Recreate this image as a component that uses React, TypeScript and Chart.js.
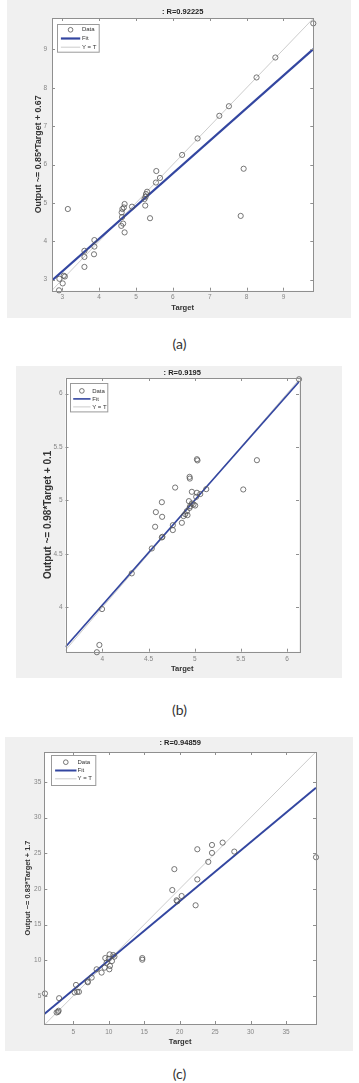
import React, { useEffect, useRef } from 'react';
import { Chart, registerables } from 'chart.js';

Chart.register(...registerables);

// ---------- Panel (a) ----------
const titleA = ': R=0.92225';
const yLabelA = 'Output ~= 0.85*Target + 0.67';
const targetA = [9.81, 8.78, 8.27, 7.52, 7.26, 6.67, 6.25, 7.92, 7.84, 5.55, 5.65, 5.54, 5.3, 5.27, 5.26, 5.23, 5.25, 5.38, 4.89, 4.69, 4.67, 4.63, 4.61, 4.62, 4.65, 4.6, 4.69, 3.15, 3.87, 3.87, 3.86, 3.6, 3.6, 3.6, 3.04, 3.07, 2.92, 3.01, 2.91];
const outputA = [9.68, 8.79, 8.27, 7.52, 7.27, 6.68, 6.25, 5.89, 4.66, 5.83, 5.65, 5.53, 5.29, 5.23, 5.16, 5.1, 4.93, 4.6, 4.9, 4.97, 4.88, 4.84, 4.75, 4.63, 4.46, 4.4, 4.23, 4.84, 4.03, 3.86, 3.66, 3.75, 3.59, 3.33, 3.1, 3.08, 3.02, 2.9, 2.72];
const fitXA = [2.72, 9.81];
const fitYA = [2.98, 9.01];
const idXA = [2.71, 9.81];
const idYA = [2.71, 9.81];
const ticksXA = [3, 4, 5, 6, 7, 8, 9];
const ticksYA = [3, 4, 5, 6, 7, 8, 9];

// ---------- Panel (b) ----------
const titleB = ': R=0.9195';
const yLabelB = 'Output ~= 0.98*Target + 0.1';
const targetB = [6.13, 5.674, 5.526, 5.024, 5.03, 4.944, 4.947, 4.788, 4.969, 5.024, 5.06, 5.125, 5.016, 4.937, 4.644, 4.969, 4.987, 5.005, 4.951, 4.944, 4.579, 4.915, 4.897, 4.922, 4.879, 4.647, 4.861, 4.571, 4.763, 4.763, 4.644, 4.65, 4.535, 4.318, 3.996, 3.967, 3.94];
const outputB = [6.134, 5.377, 5.103, 5.386, 5.375, 5.221, 5.205, 5.121, 5.081, 5.072, 5.06, 5.106, 5.034, 4.994, 4.984, 4.972, 4.963, 4.953, 4.947, 4.93, 4.891, 4.9, 4.872, 4.863, 4.854, 4.847, 4.791, 4.754, 4.769, 4.723, 4.654, 4.66, 4.551, 4.318, 3.984, 3.648, 3.58];
const fitXB = [3.6, 6.13];
const fitYB = [3.63, 6.11];
const idXB = [3.58, 6.14];
const idYB = [3.58, 6.14];
const ticksXB = [4, 4.5, 5, 5.5, 6];
const ticksYB = [4, 4.5, 5, 5.5, 6];

// ---------- Panel (c) ----------
const titleC = ': R=0.94859';
const yLabelC = 'Output ~= 0.83*Target + 1.7';
const targetC = [39.23, 27.71, 26.06, 24.56, 24.56, 24.04, 22.49, 22.49, 22.25, 19.25, 18.96, 20.28, 19.57, 19.67, 14.73, 14.73, 10.12, 10.64, 10.8, 9.51, 10.0, 9.7, 10.45, 10.17, 10.08, 9.42, 8.99, 8.29, 7.59, 7.02, 7.05, 5.38, 5.56, 5.19, 5.8, 3.0, 1.0, 2.93, 2.65, 2.85];
const outputC = [24.44, 25.23, 26.49, 26.16, 25.05, 23.79, 25.56, 21.33, 17.7, 22.77, 19.84, 19.0, 18.4, 18.26, 10.3, 10.07, 10.81, 10.72, 10.5, 10.3, 10.2, 9.65, 9.88, 9.19, 8.72, 8.95, 8.26, 8.72, 7.56, 7.0, 6.9, 6.53, 5.56, 5.47, 5.56, 4.67, 5.33, 2.91, 2.67, 2.75];
const fitXC = [0.91, 39.23];
const fitYC = [2.46, 34.2];
const idXC = [0.9, 39.23];
const idYC = [0.9, 39.23];
const ticksXC = [5, 10, 15, 20, 25, 30, 35];
const ticksYC = [5, 10, 15, 20, 25, 30, 35];

const FONT = "'Liberation Sans', Arial, Helvetica, sans-serif";

const matlabPlugin = {
  id: 'matlabBox',
  beforeDraw(chart: any) {
    const { ctx, chartArea: a } = chart;
    ctx.save();
    ctx.fillStyle = '#ffffff';
    ctx.fillRect(a.left, a.top, a.right - a.left, a.bottom - a.top);
    ctx.restore();
  },
  afterDatasetsDraw(chart: any, _args: any, opts: any) {
    const { ctx, chartArea: a, scales } = chart;
    ctx.save();
    ctx.strokeStyle = '#8f8f8f';
    ctx.lineWidth = 1;
    ctx.strokeRect(Math.round(a.left) + 0.5, Math.round(a.top) + 0.5, Math.round(a.right - a.left), Math.round(a.bottom - a.top));
    const tl = 3;
    ctx.beginPath();
    scales.x.ticks.forEach((t: any) => {
      const px = Math.round(scales.x.getPixelForValue(t.value)) + 0.5;
      ctx.moveTo(px, a.bottom); ctx.lineTo(px, a.bottom - tl);
      ctx.moveTo(px, a.top); ctx.lineTo(px, a.top + tl);
    });
    scales.y.ticks.forEach((t: any) => {
      const py = Math.round(scales.y.getPixelForValue(t.value)) + 0.5;
      ctx.moveTo(a.left, py); ctx.lineTo(a.left + tl, py);
      ctx.moveTo(a.right, py); ctx.lineTo(a.right - tl, py);
    });
    ctx.stroke();

    // legend box
    const lg = opts.legend;
    const x0 = Math.round(a.left + lg.dx) + 0.5;
    const y0 = Math.round(a.top + lg.dy) + 0.5;
    ctx.fillStyle = '#ffffff';
    ctx.fillRect(x0, y0, lg.w, lg.h);
    ctx.strokeStyle = '#9a9a9a';
    ctx.lineWidth = 1;
    ctx.strokeRect(x0, y0, lg.w, lg.h);
    ctx.font = `6px ${FONT}`;
    ctx.textBaseline = 'middle';
    ctx.textAlign = 'left';
    chart.data.datasets.forEach((ds: any, i: number) => {
      const cy = y0 + lg.row0 + i * lg.rowH;
      if (ds.showLine === false) {
        ctx.beginPath();
        ctx.strokeStyle = ds.pointBorderColor;
        ctx.lineWidth = ds.pointBorderWidth;
        ctx.arc(x0 + (lg.l0 + lg.l1) / 2, cy, ds.pointRadius * 0.9, 0, Math.PI * 2);
        ctx.stroke();
      } else {
        ctx.beginPath();
        ctx.strokeStyle = ds.borderColor;
        ctx.lineWidth = ds.borderWidth;
        ctx.moveTo(x0 + lg.l0, cy);
        ctx.lineTo(x0 + lg.l1, cy);
        ctx.stroke();
      }
      ctx.fillStyle = '#333333';
      ctx.fillText(ds.label, x0 + lg.tx, cy);
    });
    ctx.restore();
  },
};

type PanelDef = {
  left: number; top: number; w: number; h: number;
  plot: { l: number; t: number; r: number; b: number };
  titleY: number; yTitleX: number; xTitleY: number; ySize: number;
  xTickPad: number; yTickPad: number; fitWidth: number;
  legend: any;
  title: string; yLabel: string;
  target: number[]; output: number[];
  fitX: number[]; fitY: number[]; idX: number[]; idY: number[];
  ticksX: number[]; ticksY: number[];
  xMin: number; xMax: number; yMin: number; yMax: number;
};

function Panel({ p }: { p: PanelDef }) {
  const ref = useRef<HTMLCanvasElement>(null);
  useEffect(() => {
    const titleSize = 7.5;
    const lhT = titleSize * 1.2;
    const xSize = 7.6;
    const lhX = xSize * 1.2;
    const lhY = p.ySize * 1.2;
    const chart = new Chart(ref.current as HTMLCanvasElement, {
      type: 'scatter',
      data: {
        datasets: [
          {
            label: 'Data',
            data: p.target.map((x, i) => ({ x, y: p.output[i] })),
            showLine: false,
            pointRadius: 2.6,
            pointHoverRadius: 2.6,
            pointBorderWidth: 0.8,
            pointBorderColor: '#555555',
            pointBackgroundColor: 'rgba(0,0,0,0)',
            borderColor: '#555555',
            clip: false,
          } as any,
          {
            label: 'Fit',
            data: p.fitX.map((x, i) => ({ x, y: p.fitY[i] })),
            showLine: true,
            pointRadius: 0,
            borderColor: '#3346a0',
            borderWidth: p.fitWidth,
            clip: 0,
          } as any,
          {
            label: 'Y = T',
            data: p.idX.map((x, i) => ({ x, y: p.idY[i] })),
            showLine: true,
            pointRadius: 0,
            borderColor: '#c6c6c6',
            borderWidth: 0.9,
            clip: 0,
          } as any,
        ],
      },
      options: {
        animation: false,
        responsive: false,
        devicePixelRatio: 1,
        events: [],
        layout: { padding: { left: 0, top: 0, bottom: 0, right: p.w - p.plot.r } },
        plugins: {
          legend: { display: false },
          tooltip: { enabled: false },
          title: {
            display: true,
            text: p.title,
            fullSize: false,
            color: '#222222',
            font: { family: FONT, size: titleSize, weight: 'bold' },
            padding: { top: p.titleY - lhT / 2, bottom: p.plot.t - p.titleY - lhT / 2 },
          },
          matlabBox: { legend: p.legend },
        } as any,
        scales: {
          x: {
            type: 'linear',
            min: p.xMin,
            max: p.xMax,
            grid: { display: false, drawTicks: false, tickLength: 0 },
            border: { display: false },
            afterBuildTicks: (s: any) => { s.ticks = p.ticksX.map((v) => ({ value: v })); },
            afterFit: (s: any) => { s.height = p.h - p.plot.b; },
            ticks: {
              autoSkip: false, maxRotation: 0, minRotation: 0,
              padding: p.xTickPad, color: '#858585',
              font: { family: FONT, size: 6.5 },
              callback: (v: any) => String(v),
            },
            title: {
              display: true, text: 'Target', color: '#333333',
              font: { family: FONT, size: xSize, weight: 'bold' },
              padding: { top: 0, bottom: p.h - p.xTitleY - lhX / 2 },
            },
          },
          y: {
            type: 'linear',
            min: p.yMin,
            max: p.yMax,
            grid: { display: false, drawTicks: false, tickLength: 0 },
            border: { display: false },
            afterBuildTicks: (s: any) => { s.ticks = p.ticksY.map((v) => ({ value: v })); },
            afterFit: (s: any) => { s.width = p.plot.l; },
            ticks: {
              autoSkip: false, padding: p.yTickPad, color: '#858585',
              font: { family: FONT, size: 6.5 },
              callback: (v: any) => String(v),
            },
            title: {
              display: true, text: p.yLabel, color: '#333333',
              font: { family: FONT, size: p.ySize, weight: 'bold' },
              padding: { top: p.yTitleX - lhY / 2, bottom: 0 },
            },
          },
        },
      } as any,
      plugins: [matlabPlugin as any],
    });
    return () => chart.destroy();
  }, [p]);
  return (
    <div style={{ position: 'absolute', left: p.left, top: p.top, width: p.w, height: p.h, background: '#f0f0f0' }}>
      <canvas ref={ref} width={p.w} height={p.h} style={{ display: 'block', width: p.w, height: p.h }} />
    </div>
  );
}

const panelA: PanelDef = {
  left: 7, top: 0, w: 344, h: 318,
  plot: { l: 45, t: 18, r: 306.3, b: 290.7 },
  titleY: 12.3, yTitleX: 31.3, xTitleY: 307.7, ySize: 8.8,
  xTickPad: 3, yTickPad: 5, fitWidth: 2.2,
  legend: { dx: 5.3, dy: 6, w: 41.7, h: 27.7, row0: 5.3, rowH: 8.7, l0: 3.4, l1: 22.7, tx: 24.4 },
  title: titleA, yLabel: yLabelA, target: targetA, output: outputA,
  fitX: fitXA, fitY: fitYA, idX: idXA, idY: idYA, ticksX: ticksXA, ticksY: ticksYA,
  xMin: 2.72, xMax: 9.81, yMin: 2.71, yMax: 9.82,
};

const panelB: PanelDef = {
  left: 16, top: 366, w: 326, h: 312,
  plot: { l: 49.5, t: 12, r: 283, b: 285.7 },
  titleY: 7, yTitleX: 32.3, xTitleY: 303, ySize: 10,
  xTickPad: 3.5, yTickPad: 3, fitWidth: 1.6,
  legend: { dx: 4.5, dy: 5.3, w: 37.3, h: 28.4, row0: 7.4, rowH: 8, l0: 2.7, l1: 20, tx: 21.7 },
  title: titleB, yLabel: yLabelB, target: targetB, output: outputB,
  fitX: fitXB, fitY: fitYB, idX: idXB, idY: idYB, ticksX: ticksXB, ticksY: ticksYB,
  xMin: 3.6, xMax: 6.13, yMin: 3.585, yMax: 6.146,
};

const panelC: PanelDef = {
  left: 5, top: 737, w: 348, h: 314,
  plot: { l: 39.3, t: 15, r: 311, b: 287 },
  titleY: 6.3, yTitleX: 23.3, xTitleY: 305.3, ySize: 7.4,
  xTickPad: 4, yTickPad: 3, fitWidth: 2,
  legend: { dx: 6.4, dy: 3, w: 44.3, h: 30, row0: 6.7, rowH: 8.3, l0: 3.6, l1: 25, tx: 26 },
  title: titleC, yLabel: yLabelC, target: targetC, output: outputC,
  fitX: fitXC, fitY: fitYC, idX: idXC, idY: idYC, ticksX: ticksXC, ticksY: ticksYC,
  xMin: 0.91, xMax: 39.23, yMin: 1.05, yMax: 39.2,
};

const captionStyle = (top: number): React.CSSProperties => ({
  position: 'absolute', left: 0, width: 359, top, height: 18, lineHeight: '18px',
  textAlign: 'center', fontSize: 14, color: '#333333', fontFamily: "'Lato', 'Noto Sans', sans-serif",
});

export default function App() {
  return (
    <div style={{ position: 'absolute', left: 0, top: 0, width: 359, height: 1083, background: '#ffffff', overflow: 'hidden' }}>
      <Panel p={panelA} />
      <div style={captionStyle(335)}>(a)</div>
      <Panel p={panelB} />
      <div style={captionStyle(701)}>(b)</div>
      <Panel p={panelC} />
      <div style={captionStyle(1065)}>(c)</div>
    </div>
  );
}
